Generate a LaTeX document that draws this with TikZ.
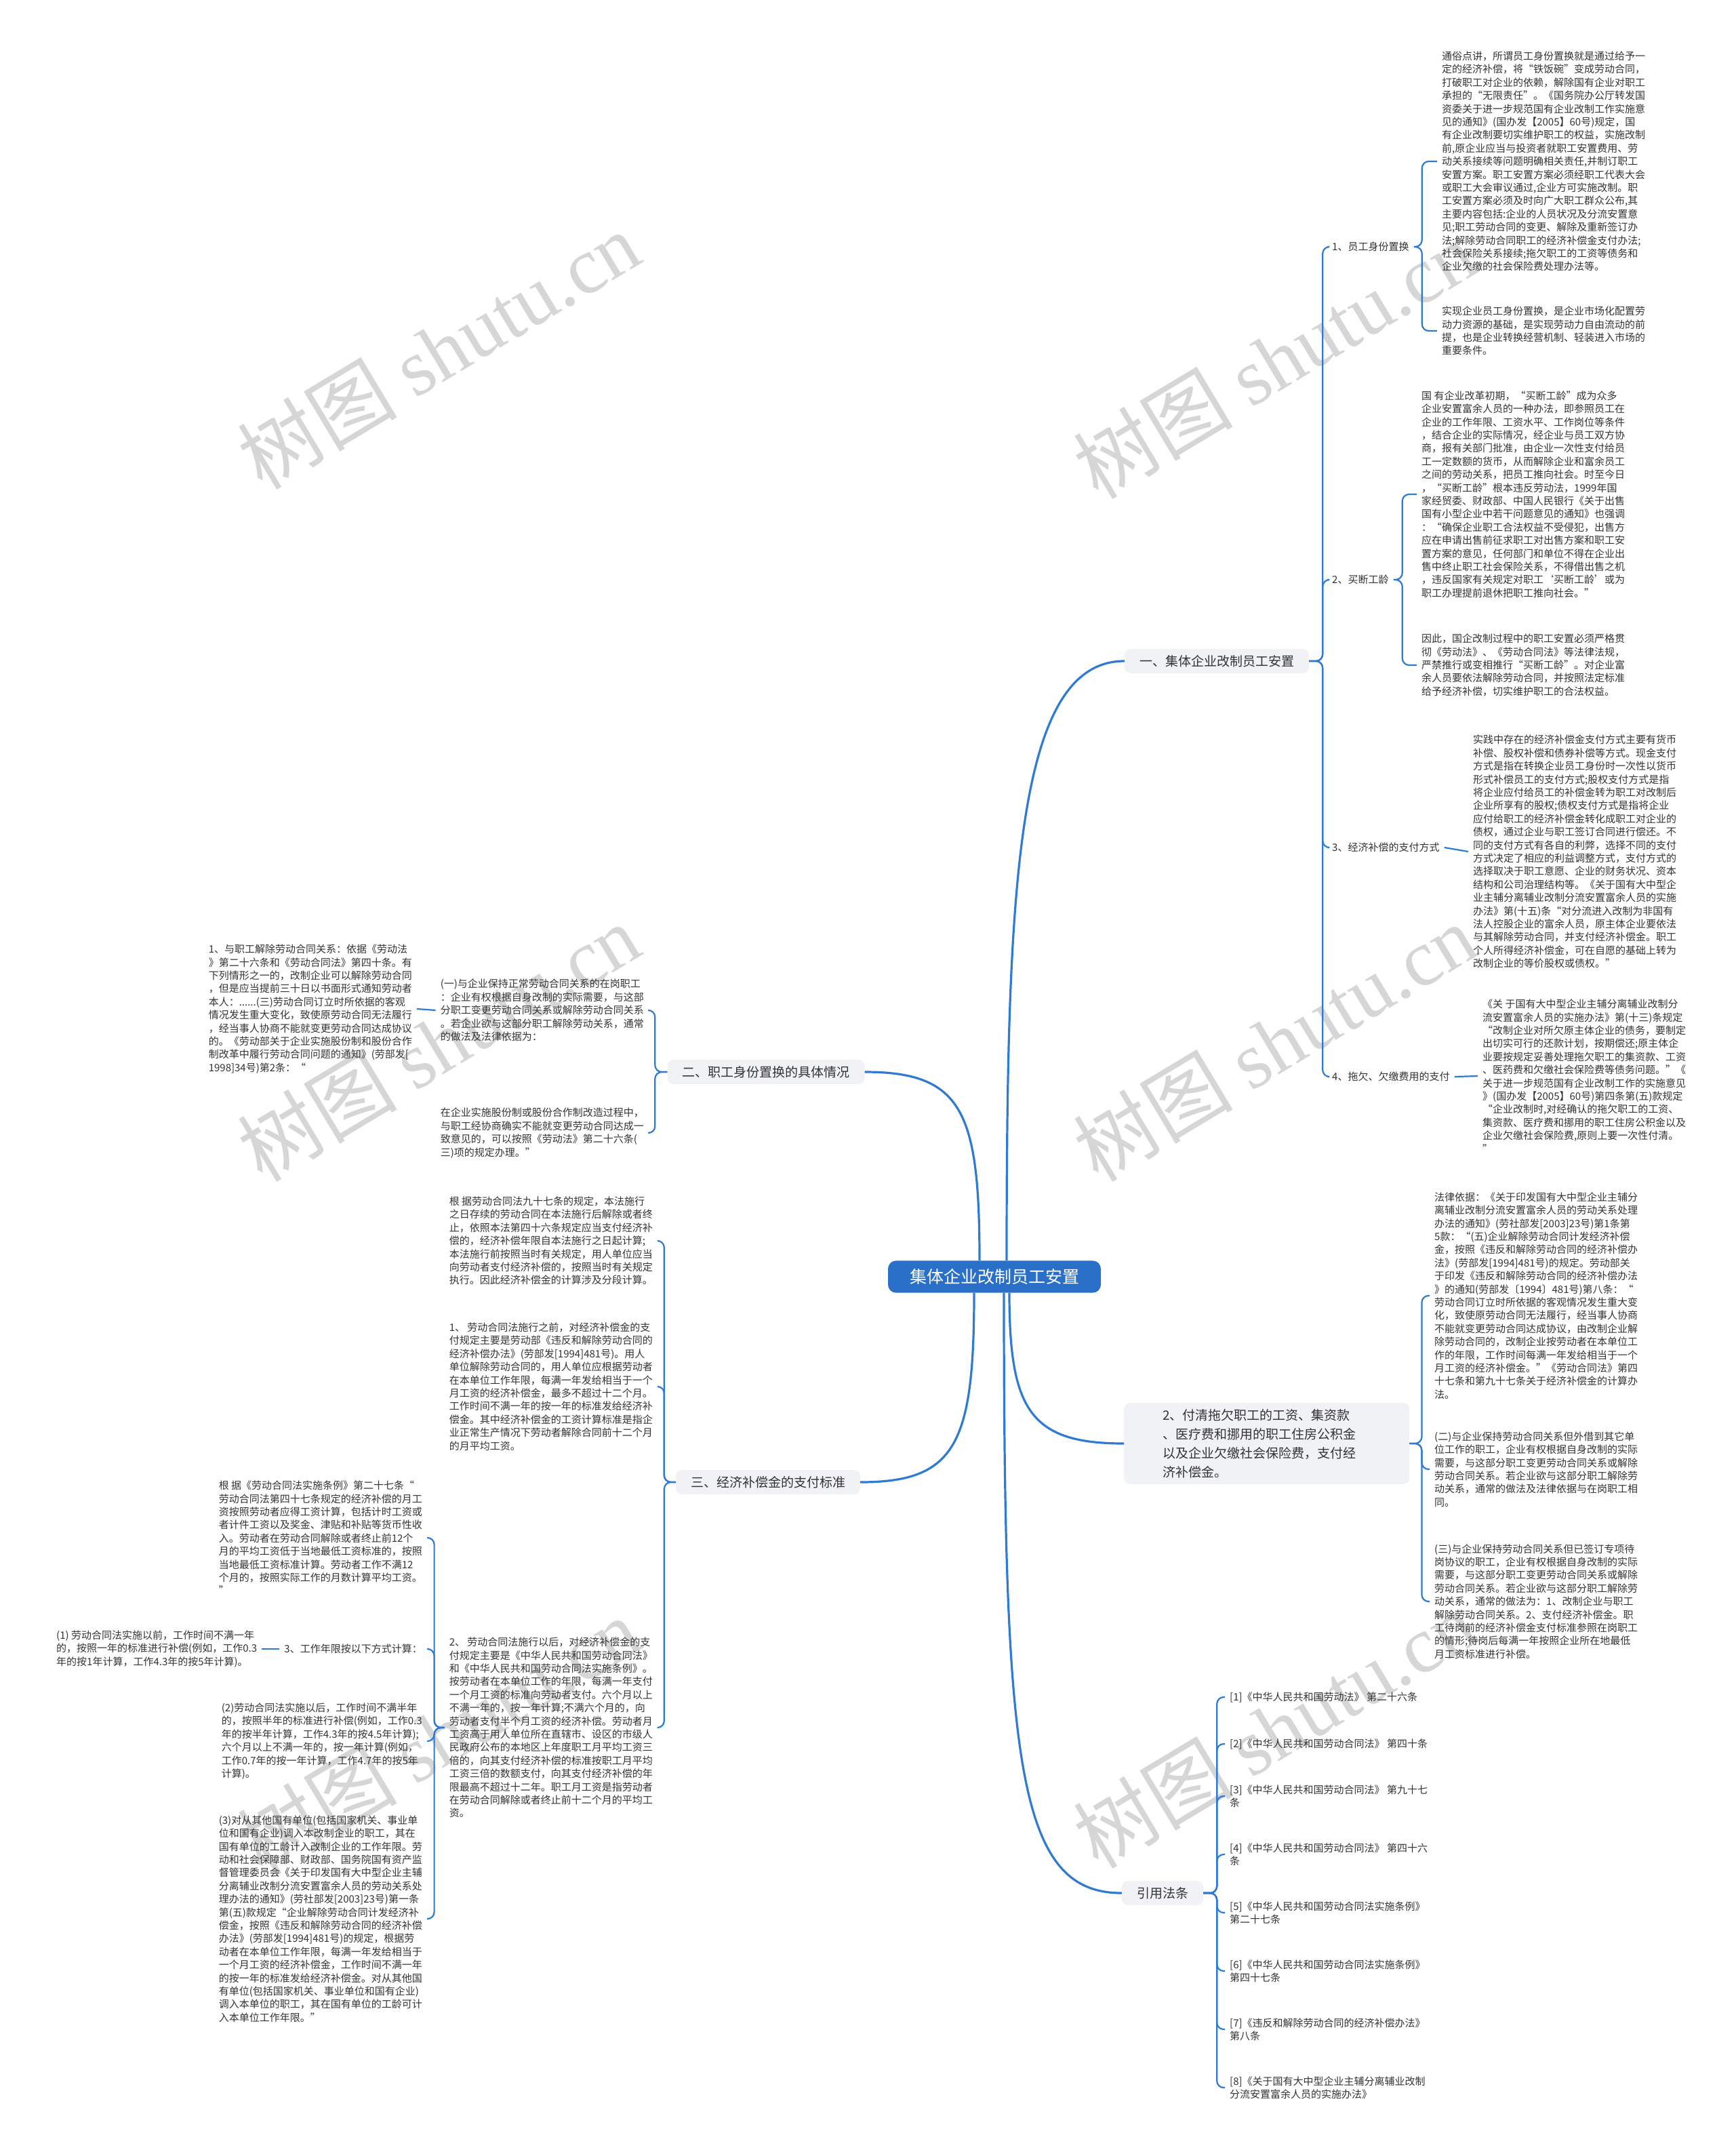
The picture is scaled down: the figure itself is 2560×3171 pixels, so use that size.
\documentclass[tikz,border=0pt]{standalone}
\usepackage{fontspec}
\setmainfont{Noto Sans CJK SC}
\newfontfamily\wmfont{Liberation Serif}
\definecolor{rootblue}{HTML}{2A70C8}
\definecolor{lineblue}{HTML}{2F7AD2}
\definecolor{boxgray}{HTML}{F0F2F5}
\definecolor{textdark}{HTML}{333333}
\definecolor{wmgray}{HTML}{D6D6D6}
\newcommand\connR[3]{\draw[conn] (#1.east) -- ++(#2,0) |- (#3.west);}
\newcommand\connL[3]{\draw[conn] (#1.west) -- ++(-#2,0) |- (#3.east);}
\begin{document}
\begin{tikzpicture}[x=1pt,y=-1pt,
  conn/.style={draw=lineblue, line width=2.2pt, rounded corners=10pt},
  mainc/.style={draw=lineblue, line width=3.2pt},
  txt/.style={inner xsep=7pt, inner ysep=2pt, align=left, text=textdark, font=\fontsize{15}{19.4}\selectfont},
  lvone/.style={fill=boxgray, rounded corners=9pt, inner xsep=22pt, inner ysep=9pt, align=left, text=textdark, font=\fontsize{19}{26}\selectfont},
  root/.style={fill=rootblue, rounded corners=12pt, text=white, inner xsep=32pt, inner ysep=12pt, font=\fontsize{25}{30}\selectfont},
  wm/.style={text=wmgray, font=\fontsize{118}{120}\selectfont, inner sep=0pt}]
\useasboundingbox (0,0) rectangle (2560,3171);
\fill[white] (0,0) rectangle (2560,3171);
% watermarks
\node[wm, rotate=31] (w1) at (647,516) {树图 {\wmfont shutu.cn}};
\node[wm, rotate=31] (w2) at (1880,530) {树图 {\wmfont shutu.cn}};
\node[wm, rotate=31] (w3) at (647,1537) {树图 {\wmfont shutu.cn}};
\node[wm, rotate=31] (w4) at (1880,1537) {树图 {\wmfont shutu.cn}};
\node[wm, rotate=31] (w5) at (647,2560) {树图 {\wmfont shutu.cn}};
\node[wm, rotate=31] (w6) at (1880,2550) {树图 {\wmfont shutu.cn}};

% root and level one
\node[root] (root) at (1467,1883) {集体企业改制员工安置};
\node[lvone] (n1) at (1795,975) {一、集体企业改制员工安置};
\node[lvone] (n2) at (1130,1581) {二、职工身份置换的具体情况};
\node[lvone] (n3) at (1133,2186) {三、经济补偿金的支付标准};
\node[lvone, anchor=west, inner xsep=57pt, inner ysep=9pt, text width=307pt, font=\fontsize{19}{28}\selectfont] (n4) at (1658,2129) {2、付清拖欠职工的工资、集资款\\、医疗费和挪用的职工住房公积金\\以及企业欠缴社会保险费，支付经\\济补偿金。};
\node[lvone] (n5) at (1715,2792) {引用法条};

\draw[mainc] ([xshift=18pt]root.north) .. controls (1485,1300) and (1500,975) .. (n1.west);
\draw[mainc] ([xshift=-22pt]root.north) .. controls (1445,1640) and (1420,1581) .. (n2.east);
\draw[mainc] ([xshift=-30pt]root.south) .. controls (1437,2130) and (1410,2186) .. (n3.east);
\draw[mainc] ([xshift=22pt]root.south) .. controls (1489,2080) and (1520,2129) .. (n4.west);
\draw[mainc] ([xshift=14pt]root.south) .. controls (1481,2600) and (1500,2792) .. (n5.west);

% branch one
\node[txt, anchor=west] (a1) at (1958,364) {1、员工身份置换};
\node[txt, anchor=west] (a2) at (1958,855) {2、买断工龄};
\node[txt, anchor=west] (a3) at (1958,1250) {3、经济补偿的支付方式};
\node[txt, anchor=west] (a4) at (1958,1588) {4、拖欠、欠缴费用的支付};
\connR{n1}{20}{a1}
\connR{n1}{20}{a2}
\connR{n1}{20}{a3}
\connR{n1}{20}{a4}

\node[txt, anchor=west] (t1a) at (2120,238) {通俗点讲，所谓员工身份置换就是通过给予一\\定的经济补偿，将“铁饭碗”变成劳动合同，\\打破职工对企业的依赖，解除国有企业对职工\\承担的“无限责任”。《国务院办公厅转发国\\资委关于进一步规范国有企业改制工作实施意\\见的通知》(国办发【2005】60号)规定，国\\有企业改制要切实维护职工的权益，实施改制\\前,原企业应当与投资者就职工安置费用、劳\\动关系接续等问题明确相关责任,并制订职工\\安置方案。职工安置方案必须经职工代表大会\\或职工大会审议通过,企业方可实施改制。职\\工安置方案必须及时向广大职工群众公布,其\\主要内容包括:企业的人员状况及分流安置意\\见;职工劳动合同的变更、解除及重新签订办\\法;解除劳动合同职工的经济补偿金支付办法;\\社会保险关系接续;拖欠职工的工资等债务和\\企业欠缴的社会保险费处理办法等。};
\node[txt, anchor=west] (t1b) at (2120,488) {实现企业员工身份置换，是企业市场化配置劳\\动力资源的基础，是实现劳动力自由流动的前\\提，也是企业转换经营机制、轻装进入市场的\\重要条件。};
\connR{a1}{12}{t1a}
\connR{a1}{12}{t1b}

\node[txt, anchor=west] (t2a) at (2090,729) {国 有企业改革初期，“买断工龄”成为众多\\企业安置富余人员的一种办法，即参照员工在\\企业的工作年限、工资水平、工作岗位等条件\\，结合企业的实际情况，经企业与员工双方协\\商，报有关部门批准，由企业一次性支付给员\\工一定数额的货币，从而解除企业和富余员工\\之间的劳动关系，把员工推向社会。时至今日\\，“买断工龄”根本违反劳动法，1999年国\\家经贸委、财政部、中国人民银行《关于出售\\国有小型企业中若干问题意见的通知》也强调\\：“确保企业职工合法权益不受侵犯，出售方\\应在申请出售前征求职工对出售方案和职工安\\置方案的意见，任何部门和单位不得在企业出\\售中终止职工社会保险关系，不得借出售之机\\，违反国家有关规定对职工‘买断工龄’或为\\职工办理提前退休把职工推向社会。”};
\node[txt, anchor=west] (t2b) at (2090,981) {因此，国企改制过程中的职工安置必须严格贯\\彻《劳动法》、《劳动合同法》等法律法规，\\严禁推行或变相推行“买断工龄”。对企业富\\余人员要依法解除劳动合同，并按照法定标准\\给予经济补偿，切实维护职工的合法权益。};
\connR{a2}{13}{t2a}
\connR{a2}{13}{t2b}

\node[txt, anchor=west] (t3) at (2166,1256) {实践中存在的经济补偿金支付方式主要有货币\\补偿、股权补偿和债券补偿等方式。现金支付\\方式是指在转换企业员工身份时一次性以货币\\形式补偿员工的支付方式;股权支付方式是指\\将企业应付给员工的补偿金转为职工对改制后\\企业所享有的股权;债权支付方式是指将企业\\应付给职工的经济补偿金转化成职工对企业的\\债权，通过企业与职工签订合同进行偿还。不\\同的支付方式有各自的利弊，选择不同的支付\\方式决定了相应的利益调整方式，支付方式的\\选择取决于职工意愿、企业的财务状况、资本\\结构和公司治理结构等。《关于国有大中型企\\业主辅分离辅业改制分流安置富余人员的实施\\办法》第(十五)条“对分流进入改制为非国有\\法人控股企业的富余人员，原主体企业要依法\\与其解除劳动合同，并支付经济补偿金。职工\\个人所得经济补偿金，可在自愿的基础上转为\\改制企业的等价股权或债权。”};
\draw[conn] (a3.east) -- (t3.west);

\node[txt, anchor=west] (t4) at (2180,1587) {《关 于国有大中型企业主辅分离辅业改制分\\流安置富余人员的实施办法》第(十三)条规定\\“改制企业对所欠原主体企业的债务，要制定\\出切实可行的还款计划，按期偿还;原主体企\\业要按规定妥善处理拖欠职工的集资款、工资\\、医药费和欠缴社会保险费等债务问题。”《\\关于进一步规范国有企业改制工作的实施意见\\》(国办发【2005】60号)第四条第(五)款规定\\“企业改制时,对经确认的拖欠职工的工资、\\集资款、医疗费和挪用的职工住房公积金以及\\企业欠缴社会保险费,原则上要一次性付清。\\”};
\draw[conn] (a4.east) -- (t4.west);

% branch 2、付清
\node[txt, anchor=west] (t5a) at (2109,1911) {法律依据：《关于印发国有大中型企业主辅分\\离辅业改制分流安置富余人员的劳动关系处理\\办法的通知》(劳社部发[2003]23号)第1条第\\5款：“(五)企业解除劳动合同计发经济补偿\\金，按照《违反和解除劳动合同的经济补偿办\\法》(劳部发[1994]481号)的规定。劳动部关\\于印发《违反和解除劳动合同的经济补偿办法\\》的通知(劳部发〔1994〕481号)第八条：“\\劳动合同订立时所依据的客观情况发生重大变\\化，致使原劳动合同无法履行，经当事人协商\\不能就变更劳动合同达成协议，由改制企业解\\除劳动合同的，改制企业按劳动者在本单位工\\作的年限，工作时间每满一年发给相当于一个\\月工资的经济补偿金。”《劳动合同法》第四\\十七条和第九十七条关于经济补偿金的计算办\\法。};
\node[txt, anchor=west] (t5b) at (2109,2167) {(二)与企业保持劳动合同关系但外借到其它单\\位工作的职工，企业有权根据自身改制的实际\\需要，与这部分职工变更劳动合同关系或解除\\劳动合同关系。若企业欲与这部分职工解除劳\\动关系，通常的做法及法律依据与在岗职工相\\同。};
\node[txt, anchor=west] (t5c) at (2109,2362) {(三)与企业保持劳动合同关系但已签订专项待\\岗协议的职工，企业有权根据自身改制的实际\\需要，与这部分职工变更劳动合同关系或解除\\劳动合同关系。若企业欲与这部分职工解除劳\\动关系，通常的做法为：1、改制企业与职工\\解除劳动合同关系。2、支付经济补偿金。职\\工待岗前的经济补偿金支付标准参照在岗职工\\的情形;待岗后每满一年按照企业所在地最低\\月工资标准进行补偿。};
\connR{n4}{18}{t5a}
\connR{n4}{18}{t5b}
\connR{n4}{18}{t5c}

% references
\node[txt, anchor=west] (r1) at (1807,2503) {[1]《中华人民共和国劳动法》 第二十六条};
\node[txt, anchor=west] (r2) at (1807,2572) {[2]《中华人民共和国劳动合同法》 第四十条};
\node[txt, anchor=west] (r3) at (1807,2649) {[3]《中华人民共和国劳动合同法》 第九十七\\条};
\node[txt, anchor=west] (r4) at (1807,2735) {[4]《中华人民共和国劳动合同法》 第四十六\\条};
\node[txt, anchor=west] (r5) at (1807,2821) {[5]《中华人民共和国劳动合同法实施条例》\\第二十七条};
\node[txt, anchor=west] (r6) at (1807,2907) {[6]《中华人民共和国劳动合同法实施条例》\\第四十七条};
\node[txt, anchor=west] (r7) at (1807,2993) {[7]《违反和解除劳动合同的经济补偿办法》\\第八条};
\node[txt, anchor=west] (r8) at (1807,3079) {[8]《关于国有大中型企业主辅分离辅业改制\\分流安置富余人员的实施办法》};
\connR{n5}{20}{r1}
\connR{n5}{20}{r2}
\connR{n5}{20}{r3}
\connR{n5}{20}{r4}
\connR{n5}{20}{r5}
\connR{n5}{20}{r6}
\connR{n5}{20}{r7}
\connR{n5}{20}{r8}

% branch two (left)
\node[txt, anchor=east] (b1) at (957,1490) {(一)与企业保持正常劳动合同关系的在岗职工\\：企业有权根据自身改制的实际需要，与这部\\分职工变更劳动合同关系或解除劳动合同关系\\。若企业欲与这部分职工解除劳动关系，通常\\的做法及法律依据为：};
\node[txt, anchor=east] (b2) at (957,1671) {在企业实施股份制或股份合作制改造过程中，\\与职工经协商确实不能就变更劳动合同达成一\\致意见的，可以按照《劳动法》第二十六条(\\三)项的规定办理。”};
\connL{n2}{18}{b1}
\connL{n2}{18}{b2}
\node[txt, anchor=east] (c1) at (615,1488) {1、与职工解除劳动合同关系：依据《劳动法\\》第二十六条和《劳动合同法》第四十条。有\\下列情形之一的，改制企业可以解除劳动合同\\，但是应当提前三十日以书面形式通知劳动者\\本人：......(三)劳动合同订立时所依据的客观\\情况发生重大变化，致使原劳动合同无法履行\\，经当事人协商不能就变更劳动合同达成协议\\的。《劳动部关于企业实施股份制和股份合作\\制改革中履行劳动合同问题的通知》(劳部发[\\1998]34号)第2条：“};
\draw[conn] (b1.west) -- (c1.east);

% branch three (left)
\node[txt, anchor=east] (d1) at (970,1830) {根 据劳动合同法九十七条的规定，本法施行\\之日存续的劳动合同在本法施行后解除或者终\\止，依照本法第四十六条规定应当支付经济补\\偿的，经济补偿年限自本法施行之日起计算;\\本法施行前按照当时有关规定，用人单位应当\\向劳动者支付经济补偿的，按照当时有关规定\\执行。因此经济补偿金的计算涉及分段计算。};
\node[txt, anchor=east] (d2) at (970,2045) {1、 劳动合同法施行之前，对经济补偿金的支\\付规定主要是劳动部《违反和解除劳动合同的\\经济补偿办法》(劳部发[1994]481号)。用人\\单位解除劳动合同的，用人单位应根据劳动者\\在本单位工作年限，每满一年发给相当于一个\\月工资的经济补偿金，最多不超过十二个月。\\工作时间不满一年的按一年的标准发给经济补\\偿金。其中经济补偿金的工资计算标准是指企\\业正常生产情况下劳动者解除合同前十二个月\\的月平均工资。};
\node[txt, anchor=east] (d3) at (970,2548) {2、 劳动合同法施行以后，对经济补偿金的支\\付规定主要是《中华人民共和国劳动合同法》\\和《中华人民共和国劳动合同法实施条例》。\\按劳动者在本单位工作的年限，每满一年支付\\一个月工资的标准向劳动者支付。六个月以上\\不满一年的，按一年计算;不满六个月的，向\\劳动者支付半个月工资的经济补偿。劳动者月\\工资高于用人单位所在直辖市、设区的市级人\\民政府公布的本地区上年度职工月平均工资三\\倍的，向其支付经济补偿的标准按职工月平均\\工资三倍的数额支付，向其支付经济补偿的年\\限最高不超过十二年。职工月工资是指劳动者\\在劳动合同解除或者终止前十二个月的平均工\\资。};
\connL{n3}{17}{d1}
\connL{n3}{17}{d2}
\connL{n3}{17}{d3}

\node[txt, anchor=east] (e1) at (630,2268) {根 据《劳动合同法实施条例》第二十七条“\\劳动合同法第四十七条规定的经济补偿的月工\\资按照劳动者应得工资计算，包括计时工资或\\者计件工资以及奖金、津贴和补贴等货币性收\\入。劳动者在劳动合同解除或者终止前12个\\月的平均工资低于当地最低工资标准的，按照\\当地最低工资标准计算。劳动者工作不满12\\个月的，按照实际工作的月数计算平均工资。\\”};
\node[txt, anchor=east] (e2) at (630,2432) {3、工作年限按以下方式计算：};
\node[txt, anchor=east] (e3) at (630,2568) {(2)劳动合同法实施以后，工作时间不满半年\\的，按照半年的标准进行补偿(例如，工作0.3\\年的按半年计算，工作4.3年的按4.5年计算);\\六个月以上不满一年的，按一年计算(例如，\\工作0.7年的按一年计算，工作4.7年的按5年\\计算)。};
\node[txt, anchor=east] (e4) at (630,2830) {(3)对从其他国有单位(包括国家机关、事业单\\位和国有企业)调入本改制企业的职工，其在\\国有单位的工龄计入改制企业的工作年限。劳\\动和社会保障部、财政部、国务院国有资产监\\督管理委员会《关于印发国有大中型企业主辅\\分离辅业改制分流安置富余人员的劳动关系处\\理办法的通知》(劳社部发[2003]23号)第一条\\第(五)款规定“企业解除劳动合同计发经济补\\偿金，按照《违反和解除劳动合同的经济补偿\\办法》(劳部发[1994]481号)的规定，根据劳\\动者在本单位工作年限，每满一年发给相当于\\一个月工资的经济补偿金，工作时间不满一年\\的按一年的标准发给经济补偿金。对从其他国\\有单位(包括国家机关、事业单位和国有企业)\\调入本单位的职工，其在国有单位的工龄可计\\入本单位工作年限。”};
\connL{d3}{15}{e1}
\connL{d3}{15}{e2}
\connL{d3}{15}{e3}
\connL{d3}{15}{e4}
\node[txt, anchor=east] (f1) at ([xshift=-26pt]e2.west) {(1) 劳动合同法实施以前，工作时间不满一年\\的，按照一年的标准进行补偿(例如，工作0.3\\年的按1年计算，工作4.3年的按5年计算)。};
\draw[conn] (e2.west) -- (f1.east);
\end{tikzpicture}
\end{document}
